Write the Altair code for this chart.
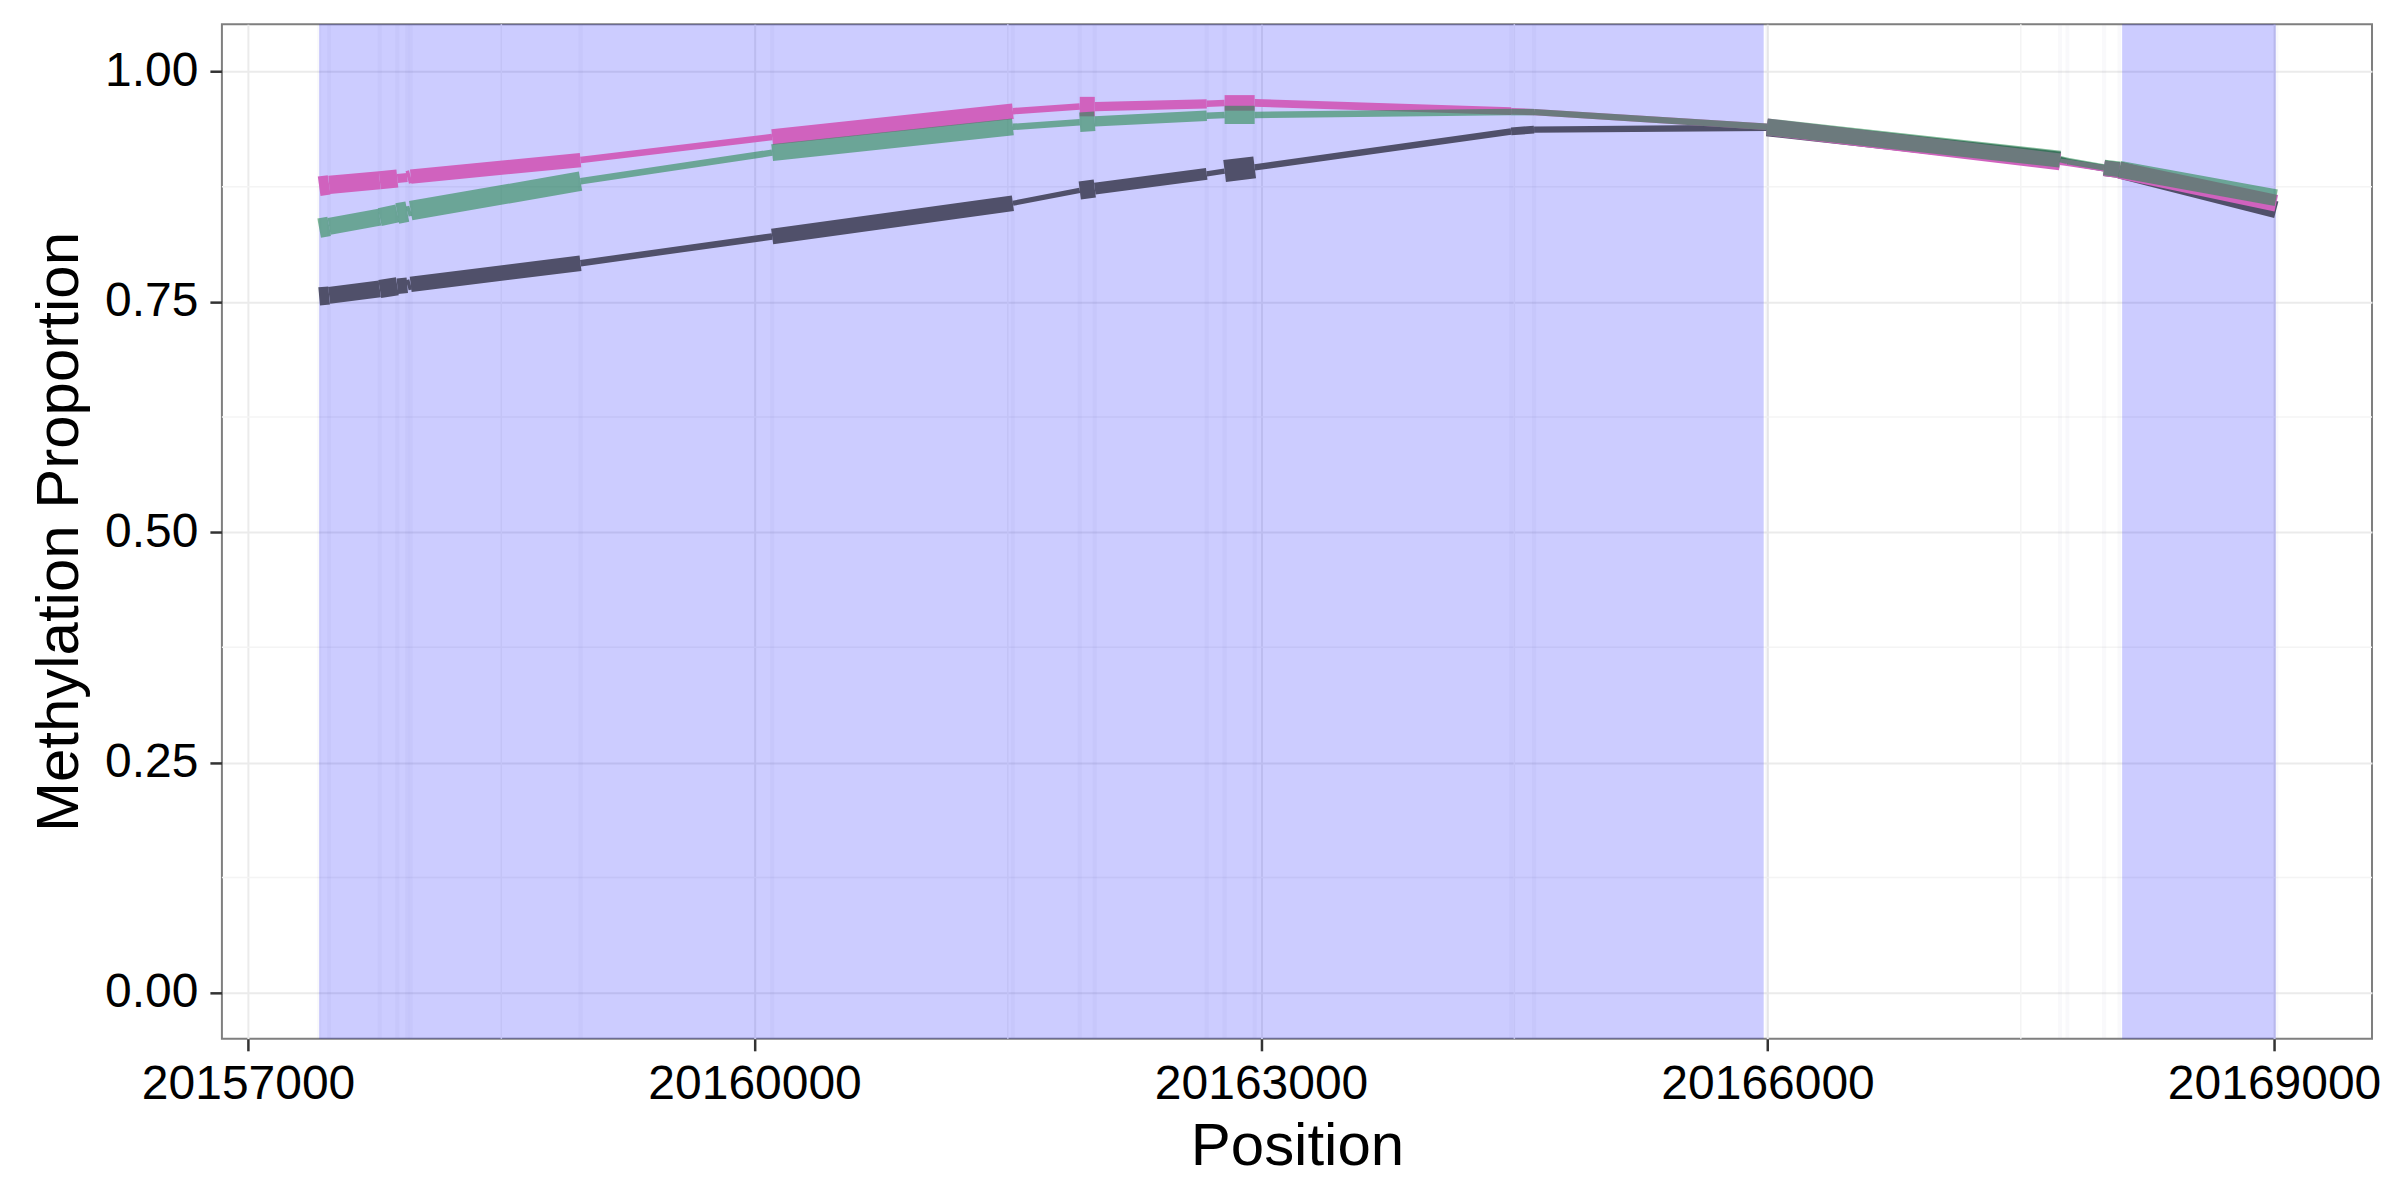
import altair as alt
import pandas as pd

# CpG positions along the region
positions = [20157421, 20157480, 20157780, 20157884, 20157943, 20157963, 20158969, 20160104,
             20161530, 20161926, 20162015, 20162678, 20162784, 20162962, 20164481, 20164617,
             20165996, 20167732, 20167776, 20167993, 20168084, 20169013]

# methylation proportions per sample
pink_vals = [0.8755, 0.877, 0.882, 0.884, 0.885, 0.886, 0.904, 0.929, 0.957, 0.962, 0.962,
             0.965, 0.966, 0.966, 0.957, 0.956, 0.940, 0.902, 0.901, 0.895, 0.893, 0.857]
green_vals = [0.830, 0.832, 0.842, 0.846, 0.848, 0.849, 0.881, 0.912, 0.940, 0.945, 0.946,
              0.952, 0.953, 0.953, 0.956, 0.956, 0.940, 0.905, 0.903, 0.896, 0.894, 0.863]
dark_vals = [0.756, 0.757, 0.764, 0.767, 0.768, 0.769, 0.792, 0.821, 0.857, 0.871, 0.873,
             0.889, 0.892, 0.896, 0.935, 0.937, 0.939, 0.904, 0.902, 0.895, 0.893, 0.850]

# read coverage per CpG (drives line width)
pink_cov = [30, 28, 28, 14, 20, 22, 10, 24, 10, 30, 14, 10, 24, 12, 10, 10, 26, 10, 10, 24, 26, 26]
green_cov = [30, 26, 28, 32, 16, 30, 10, 26, 10, 30, 16, 10, 28, 10, 10, 10, 26, 10, 10, 24, 26, 26]
dark_cov = [28, 26, 28, 24, 16, 24, 10, 24, 8, 28, 18, 8, 34, 10, 12, 10, 26, 10, 10, 24, 26, 26]

# highlighted regions
region_start = [20157421, 20168100]
region_end = [20165977, 20169010]

x_ticks = [20157000, 20160000, 20163000, 20166000, 20169000]
x_minor = [20158500, 20161500, 20164500, 20167500]
y_ticks = [0.0, 0.25, 0.5, 0.75, 1.0]
y_minor = [0.125, 0.375, 0.625, 0.875]

samples = ["Dark", "Pink", "Green"]
sample_vals = {"Pink": pink_vals, "Green": green_vals, "Dark": dark_vals}
sample_cov = {"Pink": pink_cov, "Green": green_cov, "Dark": dark_cov}

rows = []
for s in samples:
    v = sample_vals[s]
    c = sample_cov[s]
    for i in range(len(positions) - 1):
        rows.append({"sample": s, "x": positions[i], "x2": positions[i + 1],
                     "y": v[i], "y2": v[i + 1], "cov": c[i]})
seg = pd.DataFrame(rows)

W, H = 2151, 1015
xs = alt.Scale(domain=[20156845, 20169580], nice=False, zero=False)
ys = alt.Scale(domain=[-0.05, 1.0514], nice=False, zero=False)

regions = pd.DataFrame({"start": region_start, "end": region_end})
bands = pd.DataFrame({"s": [p - 12 for p in positions], "e": [p + 12 for p in positions]})

minor_x = alt.Chart(pd.DataFrame({"gx": x_minor})).mark_rule(
    color="#F4F4F4", strokeWidth=1.5).encode(x=alt.X("gx:Q", scale=xs))
minor_y = alt.Chart(pd.DataFrame({"gy": y_minor})).mark_rule(
    color="#F4F4F4", strokeWidth=1.5).encode(y=alt.Y("gy:Q", scale=ys))

band_layer = alt.Chart(bands).mark_rect(color="#8888AA", opacity=0.05).encode(
    x=alt.X("s:Q", scale=xs), x2="e:Q", y=alt.value(0), y2=alt.value(H))

rect_layer = alt.Chart(regions).mark_rect(color="#0000FF", opacity=0.2).encode(
    x=alt.X("start:Q", scale=xs,
            axis=alt.Axis(values=x_ticks, format="d", title="Position",
                          labelLimit=0, labelOverlap=False)),
    x2="end:Q", y=alt.value(0), y2=alt.value(H))

def line_layer(name, color, opacity):
    return alt.Chart(seg[seg["sample"] == name]).mark_rule(
        strokeCap="butt", color=color, opacity=opacity).encode(
        x=alt.X("x:Q", scale=xs),
        x2="x2:Q",
        y=alt.Y("y:Q", scale=ys,
                axis=alt.Axis(values=y_ticks, format=".2f", title="Methylation Proportion")),
        y2="y2:Q",
        strokeWidth=alt.StrokeWidth("cov:Q", scale=alt.Scale(domain=[0, 40], range=[0, 26]),
                                    legend=None))

chart = alt.layer(
    minor_x, minor_y, band_layer, rect_layer,
    line_layer("Dark", "#50506A", 1.0),
    line_layer("Pink", "#D062BE", 1.0),
    line_layer("Green", "#2A8B52", 0.6),
).properties(
    width=W, height=H,
    autosize=alt.AutoSizeParams(type="none"),
    padding={"left": 214, "top": 16, "right": 20, "bottom": 160},
).configure_view(
    stroke="#7F7F7F", strokeWidth=2
).configure_axis(
    labelFont="Liberation Sans", titleFont="Liberation Sans",
    labelFontSize=48, titleFontSize=60, labelColor="#000000", titleColor="#000000",
    titleFontWeight="normal", labelLimit=0,
    gridColor="#EBEBEB", gridWidth=2, domain=False,
    tickColor="#333333", tickWidth=2.5, tickSize=12, labelPadding=12,
).configure_axisX(
    titlePadding=9, labelPadding=10
).configure_axisY(
    titlePadding=14
)

chart.save("out.html", embed_options={"renderer": "svg", "actions": False})
